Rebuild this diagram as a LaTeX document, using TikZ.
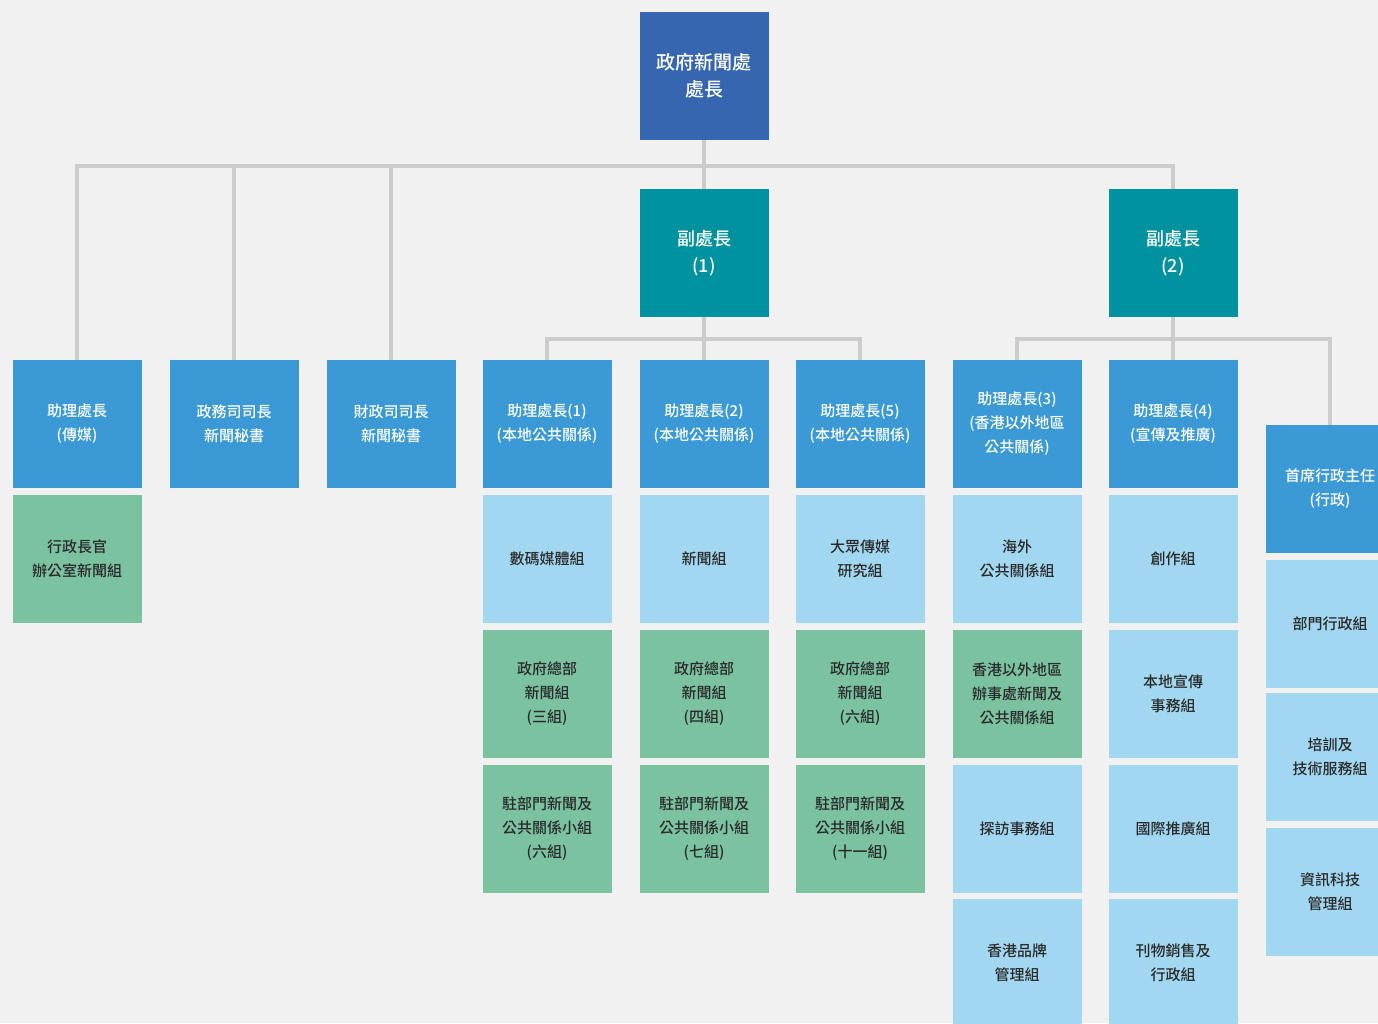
\documentclass[tikz,border=0pt]{standalone}
\usepackage{fontspec}
\setmainfont{Noto Sans CJK TC Medium}
\usepackage{tikz}
\usetikzlibrary{positioning}

\definecolor{bgcol}{HTML}{F1F1F1}
\definecolor{chiefblue}{HTML}{3766B0}
\definecolor{deputyteal}{HTML}{00929F}
\definecolor{headblue}{HTML}{3B9AD5}
\definecolor{unitblue}{HTML}{A2D7F1}
\definecolor{unitgreen}{HTML}{7AC2A0}
\definecolor{linegray}{HTML}{CCCCCC}
\definecolor{textdark}{HTML}{2A2A2A}

\tikzset{
    box/.style={rectangle, minimum width=129pt, minimum height=128pt, inner sep=0pt,
        align=center, font=\fontsize{15}{24}\selectfont},
    chief/.style={box, fill=chiefblue, text=white, font=\fontsize{19}{27}\selectfont},
    deputy/.style={box, fill=deputyteal, text=white, font=\fontsize{18}{27}\selectfont},
    head/.style={box, fill=headblue, text=white},
    unit/.style={box, fill=unitblue, text=textdark},
    office/.style={box, fill=unitgreen, text=textdark},
    link/.style={draw=linegray, line width=4.5pt, line join=miter}
}

\begin{document}
\begin{tikzpicture}[x=1pt, y=-1pt]
    \useasboundingbox (0,0) rectangle (1378,1023);
    \fill[bgcol] (0,0) rectangle (1378,1023);
    \clip (0,0) rectangle (1378,1023);

    % Top and deputies
    \node[chief] (dir) at (704,76) {政府新聞處\\處長};
    \node[deputy] (dep1) at (704,253) {副處長\\(1)};
    \node[deputy] (dep2) at (1173,253) {副處長\\(2)};

    % Heads
    \node[head] (ahMedia) at (77,424) {助理處長\\(傳媒)};
    \node[head] (csPress) at (234,424) {政務司司長\\新聞秘書};
    \node[head] (fsPress) at (391,424) {財政司司長\\新聞秘書};
    \node[head] (ah1) at (547,424) {助理處長(1)\\(本地公共關係)};
    \node[head] (ah2) at (704,424) {助理處長(2)\\(本地公共關係)};
    \node[head] (ah5) at (860,424) {助理處長(5)\\(本地公共關係)};
    \node[head] (ah3) at (1017,424) {助理處長(3)\\(香港以外地區\\公共關係)};
    \node[head] (ah4) at (1173,424) {助理處長(4)\\(宣傳及推廣)};
    \node[head] (ceo) at (1330,489) {首席行政主任\\(行政)};

    % Units
    \node[office] (ceoOffice) at (77,559) {行政長官\\辦公室新聞組};

    \node[unit] (digital) at (547,559) {數碼媒體組};
    \node[office] (hq3) at (547,694) {政府總部\\新聞組\\(三組)};
    \node[office] (dept6) at (547,829) {駐部門新聞及\\公共關係小組\\(六組)};

    \node[unit] (news) at (704,559) {新聞組};
    \node[office] (hq4) at (704,694) {政府總部\\新聞組\\(四組)};
    \node[office] (dept7) at (704,829) {駐部門新聞及\\公共關係小組\\(七組)};

    \node[unit] (research) at (860,559) {大眾傳媒\\研究組};
    \node[office] (hq6) at (860,694) {政府總部\\新聞組\\(六組)};
    \node[office] (dept11) at (860,829) {駐部門新聞及\\公共關係小組\\(十一組)};

    \node[unit] (overseas) at (1017,559) {海外\\公共關係組};
    \node[office] (etoPR) at (1017,694) {香港以外地區\\辦事處新聞及\\公共關係組};
    \node[unit] (visits) at (1017,829) {探訪事務組};
    \node[unit] (brand) at (1017,963) {香港品牌\\管理組};

    \node[unit] (creative) at (1173,559) {創作組};
    \node[unit] (localPub) at (1173,694) {本地宣傳\\事務組};
    \node[unit] (intl) at (1173,829) {國際推廣組};
    \node[unit] (sales) at (1173,963) {刊物銷售及\\行政組};

    \node[unit] (deptAdmin) at (1330,624) {部門行政組};
    \node[unit] (training) at (1330,757) {培訓及\\技術服務組};
    \node[unit] (itMgmt) at (1330,892) {資訊科技\\管理組};

    % Bus points
    \coordinate (busTop) at (1173,166);
    \coordinate (busOne) at (704,339);
    \coordinate (busTwo) at (1173,339);

    % Connectors
    \draw[link] (dir) -- (dep1);
    \draw[link] (ahMedia.north) |- (busTop) -- (dep2.north);
    \draw[link] (csPress.north) -- (csPress.north |- busTop);
    \draw[link] (fsPress.north) -- (fsPress.north |- busTop);
    \draw[link] (ah1.north) |- (busOne) -| (ah5.north);
    \draw[link] (dep1) -- (ah2);
    \draw[link] (ah3.north) |- (busTwo) -| (ceo.north);
    \draw[link] (dep2) -- (ah4);
\end{tikzpicture}
\end{document}
